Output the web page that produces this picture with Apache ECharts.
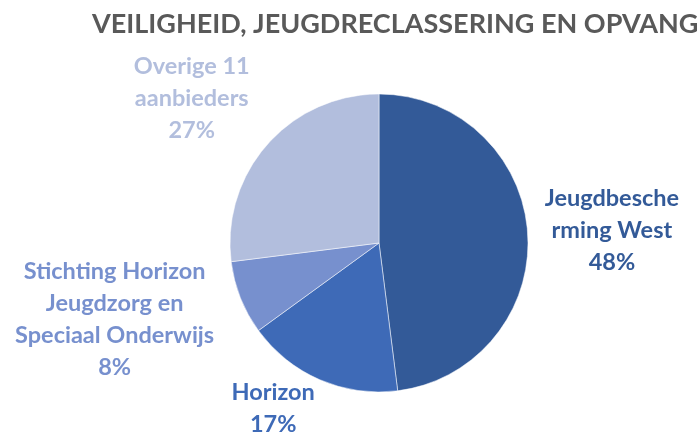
<!DOCTYPE html>
<html>
<head>
<meta charset="utf-8">
<script src="https://cdn.jsdelivr.net/npm/echarts@6/dist/echarts.min.js"></script>
<style>
  html, body { margin: 0; padding: 0; background: #fff; }
  #chart { width: 697px; height: 434px; }
</style>
</head>
<body>
<div id="chart"></div>
<script>
// chart data
var names = ['Jeugdbescherming West', 'Horizon', 'Stichting Horizon Jeugdzorg en Speciaal Onderwijs', 'Overige 11 aanbieders'];
var labelNames = ['Jeugdbesche\nrming West', 'Horizon', 'Stichting Horizon\nJeugdzorg en\nSpeciaal Onderwijs', 'Overige 11\naanbieders'];
var values = [48, 17, 8, 27];
var colors = ['#335A98', '#3E6AB7', '#7790CE', '#B2BEDD'];
// label nudges (px) so the texts sit where the original has them
var labelNudges = [[-8, -3], [14, 19], [-2, 18], [5, -39]];

var chart = echarts.init(document.getElementById('chart'));

var data = names.map(function (n, i) {
    return {
        name: n,
        value: values[i],
        itemStyle: {color: colors[i]}
    };
});

chart.setOption({
    animation: false,
    title: {
        text: 'VEILIGHEID, JEUGDRECLASSERING EN OPVANG',
        left: 87,
        top: 6,
        textStyle: {fontFamily: 'Lato', fontWeight: 'bold', fontSize: 27, color: '#595959'}
    },
    series: [{
        type: 'pie',
        center: [379, 243],
        radius: 149,
        startAngle: 90,
        clockwise: true,
        avoidLabelOverlap: false,
        data: data,
        itemStyle: {borderColor: '#fff', borderWidth: 0.5},
        label: {
            show: true,
            position: 'outside',
            color: 'inherit',
            fontFamily: 'Lato',
            fontWeight: 'bold',
            fontSize: 23.5,
            lineHeight: 32,
            formatter: function (p) {
                return labelNames[p.dataIndex] + '\n' + p.value + '%';
            }
        },
        labelLine: {show: false, length: 10, length2: 10},
        labelLayout: function (params) {
            var r = params.labelRect;
            var n = labelNudges[params.dataIndex];
            var dx = params.align === 'right' ? -r.width / 2 : r.width / 2;
            return {align: 'center', dx: dx + n[0], dy: n[1]};
        }
    }]
});
</script>
</body>
</html>
